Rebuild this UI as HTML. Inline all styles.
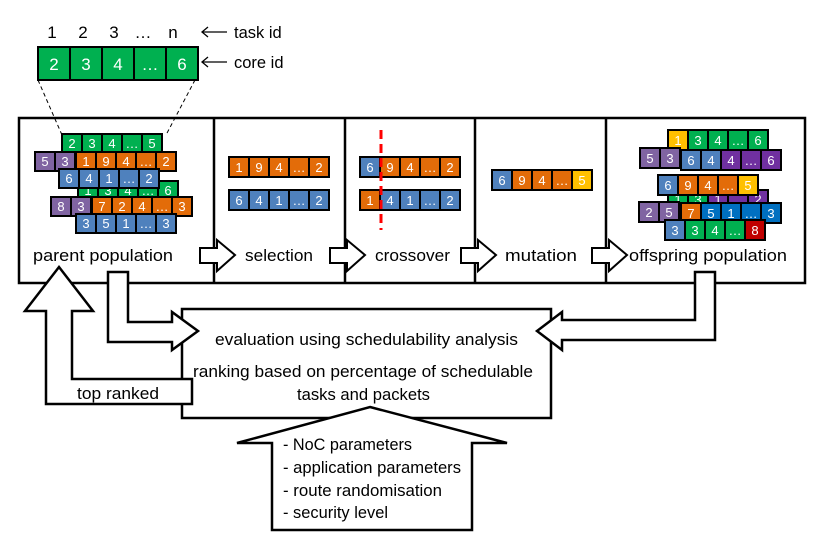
<!DOCTYPE html>
<html><head><meta charset="utf-8"><style>
body{margin:0;background:#fff}
svg{display:block}
text{font-family:"Liberation Sans",sans-serif}
.c text{fill:#fff;font-size:13px;text-anchor:middle}
.c rect{stroke:#000;stroke-width:2}
.l{font-size:16.5px;fill:#000}
</style></head><body>
<svg width="831" height="543" viewBox="0 0 831 543" xmlns="http://www.w3.org/2000/svg">
<g font-size="17" text-anchor="middle"><text x="52" y="38">1</text><text x="83" y="38">2</text><text x="114" y="38">3</text><text x="143" y="38">…</text><text x="173" y="38">n</text></g>
<g class="c">
<rect x="38" y="47" width="32" height="33" fill="#00b050"/><rect x="70" y="47" width="32" height="33" fill="#00b050"/><rect x="102" y="47" width="32" height="33" fill="#00b050"/><rect x="134" y="47" width="32" height="33" fill="#00b050"/><rect x="166" y="47" width="32" height="33" fill="#00b050"/>
<text x="54" y="70" style="font-size:17px">2</text><text x="86" y="70" style="font-size:17px">3</text><text x="118" y="70" style="font-size:17px">4</text><text x="150" y="70" style="font-size:17px">…</text><text x="182" y="70" style="font-size:17px">6</text>
</g>
<g stroke="#000" stroke-width="1.3" fill="none"><line x1="202" y1="32" x2="227" y2="32"/><polyline points="208,27 202,32 208,37"/><line x1="202" y1="62" x2="227" y2="62"/><polyline points="208,57 202,62 208,67"/></g>
<text class="l" x="234" y="38" font-size="17">task id</text><text class="l" x="234" y="68" font-size="17">core id</text>
<g stroke="#000" stroke-width="1" stroke-dasharray="4,3"><line x1="38" y1="80" x2="62" y2="135"/><line x1="195" y1="80" x2="166" y2="135"/></g>
<g fill="none" stroke="#000" stroke-width="2.5"><rect x="19" y="118" width="786" height="165"/><line x1="214" y1="118" x2="214" y2="283"/><line x1="345" y1="118" x2="345" y2="283"/><line x1="475" y1="118" x2="475" y2="283"/><line x1="606" y1="118" x2="606" y2="283"/></g>
<g class="c">
<rect x="62" y="134" width="20" height="19" fill="#00b050"/><rect x="82" y="134" width="20" height="19" fill="#00b050"/><rect x="102" y="134" width="20" height="19" fill="#00b050"/><rect x="122" y="134" width="20" height="19" fill="#00b050"/><rect x="142" y="134" width="20" height="19" fill="#00b050"/>
<text x="72" y="148">2</text><text x="92" y="148">3</text><text x="112" y="148">4</text><text x="132" y="148">…</text><text x="152" y="148">5</text>
<rect x="35" y="152" width="20" height="19" fill="#8064a2"/><rect x="55" y="152" width="20" height="19" fill="#8064a2"/><text x="45" y="166">5</text><text x="65" y="166">3</text>
<rect x="76" y="152" width="20" height="19" fill="#e36c09"/><rect x="96" y="152" width="20" height="19" fill="#e36c09"/><rect x="116" y="152" width="20" height="19" fill="#e36c09"/><rect x="136" y="152" width="20" height="19" fill="#e36c09"/><rect x="156" y="152" width="20" height="19" fill="#e36c09"/>
<text x="86" y="166">1</text><text x="106" y="166">9</text><text x="126" y="166">4</text><text x="146" y="166">…</text><text x="166" y="166">2</text>
<rect x="78" y="181" width="20" height="18" fill="#00b050"/><rect x="98" y="181" width="20" height="18" fill="#00b050"/><rect x="118" y="181" width="20" height="18" fill="#00b050"/><rect x="138" y="181" width="20" height="18" fill="#00b050"/><rect x="158" y="181" width="20" height="18" fill="#00b050"/>
<text x="88" y="195">1</text><text x="108" y="195">3</text><text x="128" y="195">4</text><text x="148" y="195">…</text><text x="168" y="195">6</text>
<rect x="59" y="169" width="20" height="19" fill="#4f81bd"/><rect x="79" y="169" width="20" height="19" fill="#4f81bd"/><rect x="99" y="169" width="20" height="19" fill="#4f81bd"/><rect x="119" y="169" width="20" height="19" fill="#4f81bd"/><rect x="139" y="169" width="20" height="19" fill="#4f81bd"/>
<text x="69" y="183">6</text><text x="89" y="183">4</text><text x="109" y="183">1</text><text x="129" y="183">…</text><text x="149" y="183">2</text>
<rect x="51" y="197" width="20" height="19" fill="#8064a2"/><rect x="71" y="197" width="20" height="19" fill="#8064a2"/><text x="61" y="211">8</text><text x="81" y="211">3</text>
<rect x="92" y="197" width="20" height="19" fill="#e36c09"/><rect x="112" y="197" width="20" height="19" fill="#e36c09"/><rect x="132" y="197" width="20" height="19" fill="#e36c09"/><rect x="152" y="197" width="20" height="19" fill="#e36c09"/><rect x="172" y="197" width="20" height="19" fill="#e36c09"/>
<text x="102" y="211">7</text><text x="122" y="211">2</text><text x="142" y="211">4</text><text x="162" y="211">…</text><text x="182" y="211">3</text>
<rect x="76" y="214" width="20" height="19" fill="#4f81bd"/><rect x="96" y="214" width="20" height="19" fill="#4f81bd"/><rect x="116" y="214" width="20" height="19" fill="#4f81bd"/><rect x="136" y="214" width="20" height="19" fill="#4f81bd"/><rect x="156" y="214" width="20" height="19" fill="#4f81bd"/>
<text x="86" y="228">3</text><text x="106" y="228">5</text><text x="126" y="228">1</text><text x="146" y="228">…</text><text x="166" y="228">3</text>
</g>
<g class="c">
<rect x="229" y="157" width="20" height="20" fill="#e36c09"/><rect x="249" y="157" width="20" height="20" fill="#e36c09"/><rect x="269" y="157" width="20" height="20" fill="#e36c09"/><rect x="289" y="157" width="20" height="20" fill="#e36c09"/><rect x="309" y="157" width="20" height="20" fill="#e36c09"/>
<text x="239" y="172">1</text><text x="259" y="172">9</text><text x="279" y="172">4</text><text x="299" y="172">…</text><text x="319" y="172">2</text>
<rect x="229" y="190" width="20" height="20" fill="#4f81bd"/><rect x="249" y="190" width="20" height="20" fill="#4f81bd"/><rect x="269" y="190" width="20" height="20" fill="#4f81bd"/><rect x="289" y="190" width="20" height="20" fill="#4f81bd"/><rect x="309" y="190" width="20" height="20" fill="#4f81bd"/>
<text x="239" y="205">6</text><text x="259" y="205">4</text><text x="279" y="205">1</text><text x="299" y="205">…</text><text x="319" y="205">2</text>
</g>
<g class="c">
<rect x="360" y="157" width="20" height="20" fill="#4f81bd"/><rect x="380" y="157" width="20" height="20" fill="#e36c09"/><rect x="400" y="157" width="20" height="20" fill="#e36c09"/><rect x="420" y="157" width="20" height="20" fill="#e36c09"/><rect x="440" y="157" width="20" height="20" fill="#e36c09"/>
<text x="370" y="172">6</text><text x="390" y="172">9</text><text x="410" y="172">4</text><text x="430" y="172">…</text><text x="450" y="172">2</text>
<rect x="360" y="190" width="20" height="20" fill="#e36c09"/><rect x="380" y="190" width="20" height="20" fill="#4f81bd"/><rect x="400" y="190" width="20" height="20" fill="#4f81bd"/><rect x="420" y="190" width="20" height="20" fill="#4f81bd"/><rect x="440" y="190" width="20" height="20" fill="#4f81bd"/>
<text x="370" y="205">1</text><text x="390" y="205">4</text><text x="410" y="205">1</text><text x="430" y="205">…</text><text x="450" y="205">2</text>
</g>
<line x1="381" y1="130" x2="381" y2="230" stroke="#ff0000" stroke-width="3" stroke-dasharray="9,5"/>
<g class="c">
<rect x="492" y="170" width="20" height="20" fill="#4f81bd"/><rect x="512" y="170" width="20" height="20" fill="#e36c09"/><rect x="532" y="170" width="20" height="20" fill="#e36c09"/><rect x="552" y="170" width="20" height="20" fill="#e36c09"/><rect x="572" y="170" width="20" height="20" fill="#ffc000"/>
<text x="502" y="185">6</text><text x="522" y="185">9</text><text x="542" y="185">4</text><text x="562" y="185">…</text><text x="582" y="185">5</text>
</g>
<g class="c">
<rect x="668" y="130" width="20" height="20" fill="#ffc000"/><rect x="688" y="130" width="20" height="20" fill="#00b050"/><rect x="708" y="130" width="20" height="20" fill="#00b050"/><rect x="728" y="130" width="20" height="20" fill="#00b050"/><rect x="748" y="130" width="20" height="20" fill="#00b050"/>
<text x="678" y="145">1</text><text x="698" y="145">3</text><text x="718" y="145">4</text><text x="738" y="145">…</text><text x="758" y="145">6</text>
<rect x="640" y="148" width="20" height="20" fill="#8064a2"/><rect x="660" y="148" width="20" height="20" fill="#8064a2"/><text x="650" y="163">5</text><text x="670" y="163">3</text>
<rect x="681" y="150" width="20" height="20" fill="#4f81bd"/><rect x="701" y="150" width="20" height="20" fill="#4f81bd"/><rect x="721" y="150" width="20" height="20" fill="#7030a0"/><rect x="741" y="150" width="20" height="20" fill="#7030a0"/><rect x="761" y="150" width="20" height="20" fill="#7030a0"/>
<text x="691" y="165">6</text><text x="711" y="165">4</text><text x="731" y="165">4</text><text x="751" y="165">…</text><text x="771" y="165">6</text>
<rect x="668" y="190" width="20" height="18" fill="#00b050"/><rect x="688" y="190" width="20" height="18" fill="#00b050"/><rect x="708" y="190" width="20" height="18" fill="#7030a0"/><rect x="728" y="190" width="20" height="18" fill="#7030a0"/><rect x="748" y="190" width="20" height="18" fill="#7030a0"/>
<text x="678" y="204">1</text><text x="698" y="204">3</text><text x="718" y="204">1</text><text x="738" y="204">…</text><text x="758" y="204">2</text>
<rect x="658" y="175" width="20" height="20" fill="#4f81bd"/><rect x="678" y="175" width="20" height="20" fill="#e36c09"/><rect x="698" y="175" width="20" height="20" fill="#e36c09"/><rect x="718" y="175" width="20" height="20" fill="#e36c09"/><rect x="738" y="175" width="20" height="20" fill="#ffc000"/>
<text x="668" y="190">6</text><text x="688" y="190">9</text><text x="708" y="190">4</text><text x="728" y="190">…</text><text x="748" y="190">5</text>
<rect x="639" y="202" width="20" height="20" fill="#8064a2"/><rect x="659" y="202" width="20" height="20" fill="#8064a2"/><text x="649" y="217">2</text><text x="669" y="217">5</text>
<rect x="681" y="203" width="20" height="20" fill="#e36c09"/><rect x="701" y="203" width="20" height="20" fill="#0070c0"/><rect x="721" y="203" width="20" height="20" fill="#0070c0"/><rect x="741" y="203" width="20" height="20" fill="#0070c0"/><rect x="761" y="203" width="20" height="20" fill="#0070c0"/>
<text x="691" y="218">7</text><text x="711" y="218">5</text><text x="731" y="218">1</text><text x="751" y="218">…</text><text x="771" y="218">3</text>
<rect x="665" y="220" width="20" height="20" fill="#4f81bd"/><rect x="685" y="220" width="20" height="20" fill="#00b050"/><rect x="705" y="220" width="20" height="20" fill="#00b050"/><rect x="725" y="220" width="20" height="20" fill="#00b050"/><rect x="745" y="220" width="20" height="20" fill="#c00000"/>
<text x="675" y="235">3</text><text x="695" y="235">3</text><text x="715" y="235">4</text><text x="735" y="235">…</text><text x="755" y="235">8</text>
</g>
<g fill="#fff" stroke="#000" stroke-width="2">
<polygon points="200,248 217,248 217,240 235,255 217,271 217,263 200,263"/>
<polygon points="330,248 347,248 347,240 365,255 347,271 347,263 330,263"/>
<polygon points="461,248 478,248 478,240 496,255 478,271 478,263 461,263"/>
<polygon points="592,248 609,248 609,240 627,255 609,271 609,263 592,263"/>
</g>
<g class="l" font-size="17" lengthAdjust="spacingAndGlyphs">
<text x="33" y="261" textLength="140" lengthAdjust="spacingAndGlyphs">parent population</text><text x="245" y="261" textLength="68" lengthAdjust="spacingAndGlyphs">selection</text><text x="375" y="261" textLength="75" lengthAdjust="spacingAndGlyphs">crossover</text><text x="505" y="261" textLength="72" lengthAdjust="spacingAndGlyphs">mutation</text><text x="629" y="261" textLength="158" lengthAdjust="spacingAndGlyphs">offspring population</text>
</g>
<g fill="#fff" stroke="#000" stroke-width="2.5">
<rect x="182" y="309" width="369" height="109"/>
<polygon points="59,267 93,311 72,311 72,379 192,379 192,404 46,404 46,311 25,311"/>
<polygon points="108,272 128,272 128,322 172,322 172,312 198,331 172,350 172,342 108,342"/>
<polygon points="715,272 695,272 695,320 562,320 562,312 537,331 562,350 562,340 715,340"/>
<polygon points="370,407 507,443 472,443 472,530 272,530 272,443 237,443"/>
</g>
<g class="l" font-size="17">
<text x="77" y="399" textLength="82" lengthAdjust="spacingAndGlyphs">top ranked</text>
<text x="215" y="345" textLength="303" lengthAdjust="spacingAndGlyphs">evaluation using schedulability analysis</text>
<text x="193" y="377" textLength="340" lengthAdjust="spacingAndGlyphs">ranking based on percentage of schedulable</text>
<text x="297" y="400" textLength="133" lengthAdjust="spacingAndGlyphs">tasks and packets</text>
</g>
<g class="l" font-size="15.5">
<text x="283" y="450" textLength="129" lengthAdjust="spacingAndGlyphs">- NoC parameters</text><text x="283" y="473" textLength="178" lengthAdjust="spacingAndGlyphs">- application parameters</text><text x="283" y="496" textLength="159" lengthAdjust="spacingAndGlyphs">- route randomisation</text><text x="283" y="518" textLength="105" lengthAdjust="spacingAndGlyphs">- security level</text>
</g>
</svg>
</body></html>
